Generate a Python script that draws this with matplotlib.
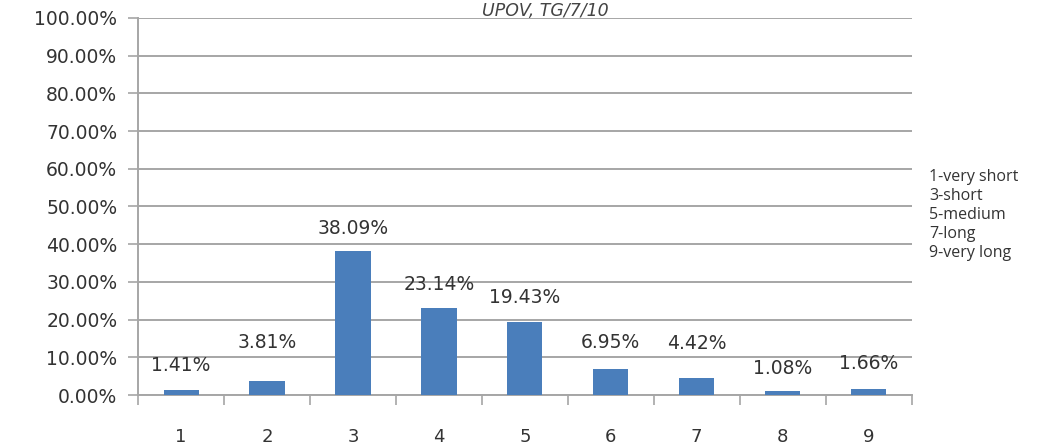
import matplotlib
matplotlib.use("Agg")
import matplotlib.pyplot as plt
from matplotlib.ticker import FixedLocator, FuncFormatter

categories = ["1", "2", "3", "4", "5", "6", "7", "8", "9"]
values = [1.41, 3.81, 38.09, 23.14, 19.43, 6.95, 4.42, 1.08, 1.66]
value_labels = ["1.41%", "3.81%", "38.09%", "23.14%", "19.43%", "6.95%", "4.42%", "1.08%", "1.66%"]
legend_lines = ["1-very short", "3-short", "5-medium", "7-long", "9-very long"]
title_text = "UPOV, TG/7/10"

# label vertical offsets in pixels (style only)
label_offsets = [24, 38, 23, 23, 24, 26, 35, 23, 25]

fig = plt.figure(figsize=(10.55, 4.45), dpi=100)
ax = fig.add_axes([0.131, 0.112, 0.733, 0.848])

x = list(range(1, len(categories) + 1))
ax.bar(x, values, width=0.41, color="#4a7ebb", zorder=3)

ax.set_xlim(0.5, len(categories) + 0.5)
ax.set_ylim(0, 100)
ax.set_yticks(range(0, 101, 10))
ax.yaxis.set_major_formatter(FuncFormatter(lambda v, p: f"{v:.2f}%"))
ax.grid(axis="y", color="#a6a6a6", linewidth=1.4, zorder=0)

ax.set_xticks(x)
ax.set_xticklabels(categories)
ax.xaxis.set_minor_locator(FixedLocator([i + 0.5 for i in range(0, len(categories) + 1)]))
ax.tick_params(axis="x", which="major", length=0, pad=24, labelsize=13, labelcolor="#333333")
ax.tick_params(axis="x", which="minor", length=7, width=1.2, color="#a6a6a6")
ax.tick_params(axis="y", length=7, width=1.2, color="#a6a6a6", labelsize=13.5, labelcolor="#333333", pad=8)

for s in ["top", "right"]:
    ax.spines[s].set_visible(False)
for s in ["left", "bottom"]:
    ax.spines[s].set_color("#a6a6a6")
    ax.spines[s].set_linewidth(1.4)

for xi, v, lab, off in zip(x, values, value_labels, label_offsets):
    ax.annotate(lab, (xi, v), xytext=(0, off * 0.72), textcoords="offset points",
                ha="center", va="center", fontsize=13.5, color="#333333", zorder=4)

fig.text(0.517, 0.996, title_text, ha="center", va="top", fontsize=12.5,
         style="italic", color="#444444")

for i, t in enumerate(legend_lines):
    fig.text(0.881, 1 - (177 + i * 19) / 445, t, ha="left", va="center",
             fontsize=11.5, family="Open Sans", color="#333333")

fig.savefig("out.png", dpi=100)
